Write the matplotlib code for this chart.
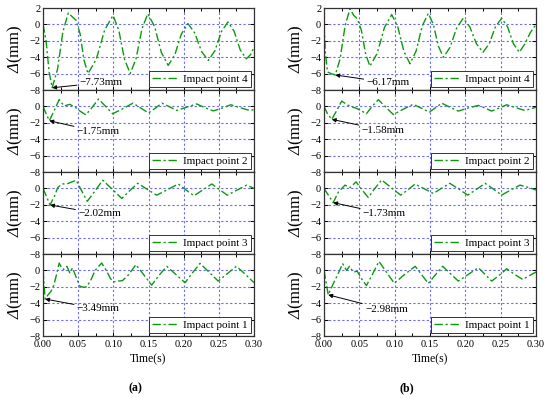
import matplotlib
matplotlib.use("Agg")
import matplotlib.pyplot as plt
from matplotlib.ticker import MultipleLocator, FormatStrFormatter

plt.rcParams['font.family'] = 'Liberation Serif'
plt.rcParams['mathtext.fontset'] = 'custom'
plt.rcParams['mathtext.rm'] = 'Liberation Serif'
plt.rcParams['mathtext.it'] = 'Liberation Serif:italic'
# capital Greek is forced upright in the 'it' slot, so borrow 'sf' for an italic Delta
plt.rcParams['mathtext.sf'] = 'Liberation Serif:italic'

# ---- data ----
t_a4 = [0, 0.0043, 0.0087, 0.013, 0.0207, 0.0283, 0.036, 0.042, 0.047, 0.0527, 0.0583, 0.064,
        0.0758, 0.0877, 0.0995, 0.1077, 0.1158, 0.124, 0.1323, 0.1407, 0.149, 0.1587, 0.1683,
        0.178, 0.1873, 0.1967, 0.206, 0.2157, 0.2253, 0.235, 0.2443, 0.2537, 0.263, 0.2717,
        0.2803, 0.289, 0.295, 0.30]
v_a4 = [0, -1.93, -5.8, -7.73, -5.45, -0.88, 1.4, 0.9, 0.5, -1.13, -4.38, -6.0,
        -4.23, -0.68, 1.1, -0.68, -4.23, -6.0, -4.18, -0.53, 1.3, -0.28, -3.43,
        -5.0, -3.73, -1.18, 0.1, -1.03, -3.28, -4.4, -3.23, -0.88, 0.3, -0.83,
        -3.08, -4.2, -3.7, -2.8]

t_a2 = [0, 0.004, 0.009, 0.016, 0.023, 0.030, 0.038, 0.046, 0.053, 0.061, 0.070, 0.079, 0.089,
        0.099, 0.113, 0.128, 0.139, 0.150, 0.160, 0.169, 0.180, 0.190, 0.204, 0.2185, 0.230,
        0.242, 0.255, 0.267, 0.280, 0.294, 0.30]
v_a2 = [0, -0.8, -1.75, -0.5, 0.83, 0.05, 0.25, -0.1, -0.6, -1.03, -0.1, 0.9, 0.0,
        -0.9, -0.3, 0.4, -0.2, -0.8, -0.2, 0.4, -0.05, -0.5, -0.1, 0.3, -0.15,
        -0.55, -0.2, 0.2, -0.15, -0.5, -0.4]

t_a3 = [0, 0.005, 0.010, 0.016, 0.021, 0.027, 0.034, 0.040, 0.047, 0.055, 0.063, 0.074, 0.085,
        0.0985, 0.112, 0.123, 0.1346, 0.148, 0.1616, 0.177, 0.1924, 0.2035, 0.2147, 0.227,
        0.240, 0.251, 0.262, 0.276, 0.2896, 0.30]
v_a3 = [0, -1.0, -2.02, -1.0, 0.1, 0.55, 0.55, 0.75, 1.0, -0.3, -1.57, -0.3, 1.0,
        -0.1, -1.23, -0.3, 0.62, -0.1, -0.83, -0.15, 0.54, -0.2, -0.9, -0.2,
        0.54, -0.15, -0.83, -0.2, 0.4, 0.0]

t_a1 = [0, 0.003, 0.007, 0.011, 0.015, 0.019, 0.023, 0.026, 0.029, 0.034, 0.038, 0.042, 0.047,
        0.052, 0.057, 0.062, 0.068, 0.074, 0.0834, 0.090, 0.096, 0.100, 0.107, 0.113, 0.122,
        0.132, 0.143, 0.1545, 0.165, 0.176, 0.189, 0.202, 0.2125, 0.2232, 0.236, 0.249,
        0.262, 0.275, 0.288, 0.30]
v_a1 = [0, -3.49, -3.0, -2.6, -1.9, -0.6, 0.9, 0.4, 0.1, 0.5, -0.3, 0.3, -0.8,
        -1.9, -2.05, -2.0, -1.2, 0.0, 0.9, 0.0, -1.0, -1.4, -1.3, -1.25, -0.5,
        0.7, -0.5, -1.8, -0.6, 0.5, -0.5, -1.5, -0.3, 0.85, -0.2, -1.3,
        -0.4, 0.5, -0.5, -1.5]

t_b4 = [0, 0.002, 0.005, 0.010, 0.016, 0.0229, 0.0299, 0.0368, 0.042, 0.047, 0.053, 0.059, 0.065,
        0.0753, 0.0855, 0.0958, 0.1044, 0.1131, 0.1217, 0.1303, 0.139, 0.1476, 0.1547,
        0.1619, 0.169, 0.1783, 0.1877, 0.197, 0.2063, 0.2157, 0.225, 0.2338, 0.2426,
        0.2514, 0.2597, 0.2681, 0.2764, 0.284, 0.292, 0.30]
v_b4 = [0, -3.5, -5.8, -6.0, -6.17, -4.15, -0.12, 1.9, 1.1, 0.7, -0.75, -3.65, -5.1,
        -3.53, -0.38, 1.2, -0.3, -3.3, -4.8, -3.26, -0.19, 1.35, 0.01,
        -2.66, -4.0, -2.81, -0.44, 0.75, -0.29, -2.36, -3.4, -2.36, -0.29,
        0.75, -0.29, -2.36, -3.4, -2.4, -1.0, 0.0]

t_b2 = [0, 0.005, 0.011, 0.018, 0.025, 0.031, 0.037, 0.045, 0.052, 0.060, 0.068, 0.077, 0.0875,
        0.098, 0.112, 0.126, 0.1375, 0.149, 0.158, 0.1666, 0.178, 0.190, 0.204, 0.2184,
        0.228, 0.237, 0.248, 0.2585, 0.271, 0.2844, 0.30]
v_b2 = [0, -0.9, -1.58, -0.5, 0.65, 0.3, 0.0, -0.2, -0.5, -0.9, 0.0, 0.82, -0.1,
        -0.99, -0.35, 0.25, -0.2, -0.7, -0.15, 0.4, -0.1, -0.57, -0.2, 0.12,
        -0.2, -0.57, -0.2, 0.2, -0.15, -0.5, -0.1]

t_b3 = [0, 0.006, 0.013, 0.020, 0.0297, 0.037, 0.0453, 0.054, 0.0627, 0.072, 0.0816, 0.095,
        0.1085, 0.119, 0.1288, 0.142, 0.1547, 0.166, 0.178, 0.191, 0.2033, 0.216, 0.228,
        0.240, 0.2514, 0.264, 0.2774, 0.290, 0.30]
v_b3 = [0, -0.8, -1.73, -0.5, 0.4, 0.1, 0.8, -0.2, -1.11, 0.0, 1.03, 0.1,
        -0.82, -0.15, 0.53, -0.05, -0.62, 0.0, 0.62, -0.1, -0.82, -0.1, 0.62,
        -0.1, -0.82, -0.2, 0.4, 0.1, -0.2]

t_b1 = [0, 0.006, 0.013, 0.020, 0.0264, 0.032, 0.036, 0.0415, 0.047, 0.053, 0.060, 0.069, 0.0778,
        0.089, 0.0995, 0.114, 0.129, 0.138, 0.1476, 0.158, 0.168, 0.179, 0.190, 0.204,
        0.2184, 0.228, 0.2373, 0.248, 0.2585, 0.270, 0.281, 0.30]
v_b1 = [0, -2.98, -1.65, -0.4, 0.82, 0.0, 0.5, -0.2, -0.1, -1.0, -1.85, -0.4, 1.1,
        -0.3, -1.57, -0.5, 0.5, -0.5, -1.6, -0.5, 0.5, -0.4, -1.3, -0.5,
        0.33, -0.5, -1.3, -0.6, 0.2, -0.5, -1.1, -0.2]

labels = ['Impact point 4', 'Impact point 2', 'Impact point 3', 'Impact point 1']
left_series = [(t_a4, v_a4), (t_a2, v_a2), (t_a3, v_a3), (t_a1, v_a1)]
right_series = [(t_b4, v_b4), (t_b2, v_b2), (t_b3, v_b3), (t_b1, v_b1)]
left_notes = [('\u22127.73mm', (0.013, -7.73), (0.052, -7.1)),
              ('\u22121.75mm', (0.009, -1.75), (0.048, -3.1)),
              ('\u22122.02mm', (0.010, -2.02), (0.050, -3.1)),
              ('\u22123.49mm', (0.003, -3.49), (0.048, -4.7))]
right_notes = [('\u22126.17mm', (0.016, -6.17), (0.060, -7.1)),
               ('\u22121.58mm', (0.011, -1.58), (0.053, -2.9)),
               ('\u22121.73mm', (0.013, -1.73), (0.055, -3.1)),
               ('\u22122.98mm', (0.006, -2.98), (0.058, -4.8))]

green = '#0c9a0c'
grid_c = '#6a6aff'

fig = plt.figure(figsize=(5.5, 3.98), dpi=100)


def draw_column(x0, width, series, notes):
    h = (336 - 8) / 398 / 4
    top = 1 - 8 / 398
    axes = []
    for i, ((t, v), lab, note) in enumerate(zip(series, labels, notes)):
        ax = fig.add_axes([x0, top - (i + 1) * h, width, h])
        ax.plot(t, v, color=green, lw=1.0, ls=(0, (6, 2, 1.5, 2)), label=lab)
        ax.set_xlim(0, 0.30)
        ax.set_ylim(-8, 2)
        ax.xaxis.set_major_locator(MultipleLocator(0.05))
        ax.xaxis.set_minor_locator(MultipleLocator(0.025))
        ax.xaxis.set_major_formatter(FormatStrFormatter('%.2f'))
        if i == 0:
            ax.set_yticks([-8, -6, -4, -2, 0, 2])
        else:
            ax.set_yticks([-8, -6, -4, -2, 0])
        ax.grid(True, which='major', color=grid_c, ls=(0, (2, 2)), lw=0.8)
        ax.tick_params(direction='in', top=True, right=True, which='both',
                       labelsize=7.5, length=3, width=0.7, pad=2)
        ax.tick_params(axis='x', pad=3)
        ax.tick_params(which='minor', length=2)
        for sp in ax.spines.values():
            sp.set_color('#333333')
            sp.set_linewidth(0.9)
        if i < 3:
            ax.tick_params(labelbottom=False)
        else:
            ax.set_xlabel('Time(s)', fontsize=8.5, labelpad=3)
        ax.set_ylabel(r'$\mathsf{Δ}$(mm)', fontsize=12, labelpad=3)
        txt, xy, xytext = note
        ax.annotate(txt, xy=xy, xytext=xytext, fontsize=8, va='center', ha='left',
                    arrowprops=dict(arrowstyle='-|>', color='black', lw=0.7,
                                    mutation_scale=6, shrinkA=0, shrinkB=0))
        leg = ax.legend(loc='lower right', fontsize=8, handlelength=2.3,
                        borderpad=0.3, borderaxespad=0.25, fancybox=False,
                        framealpha=1, edgecolor='#333333', handletextpad=0.5)
        leg.get_frame().set_linewidth(0.7)
        axes.append(ax)
    return axes


draw_column(43 / 550, 211 / 550, left_series, left_notes)
draw_column(324 / 550, 212 / 550, right_series, right_notes)

fig.text(135 / 550, 1 - 388 / 398, '(a)', ha='center', va='center', fontsize=8.5, fontweight='bold')
fig.text(407 / 550, 1 - 388 / 398, '(b)', ha='center', va='center', fontsize=8.5, fontweight='bold')

fig.savefig('out.png', dpi=100)
